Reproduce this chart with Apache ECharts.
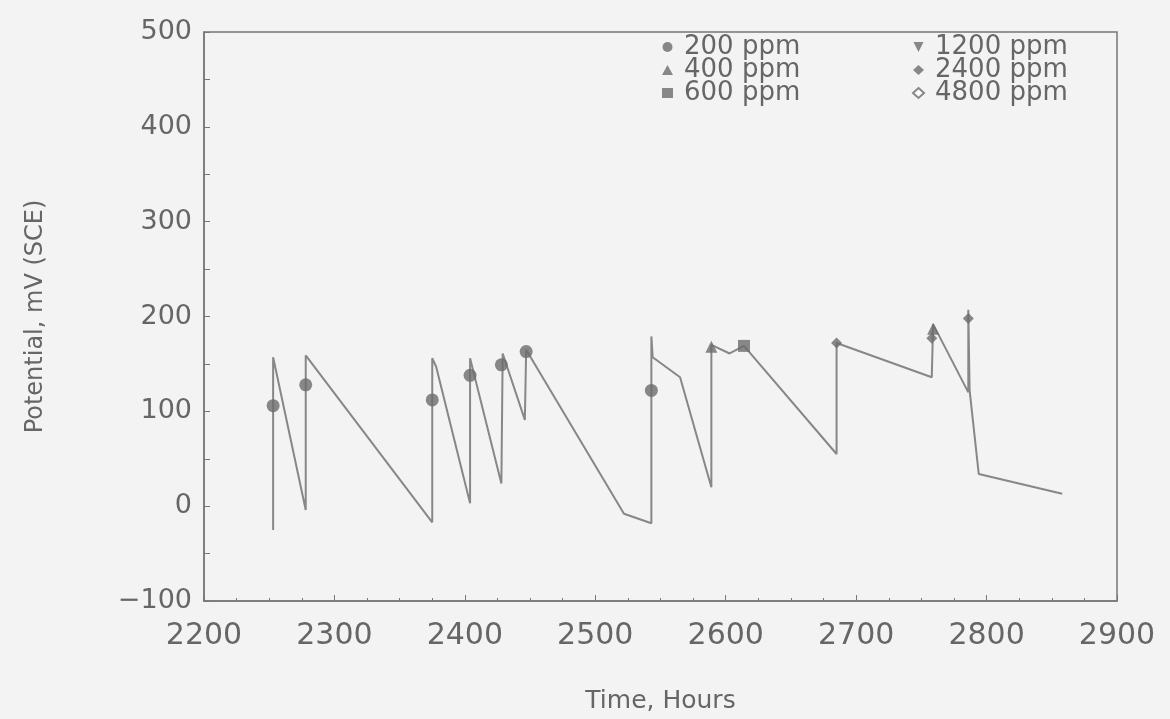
<!DOCTYPE html>
<html>
<head>
<meta charset="utf-8">
<script src="https://cdn.jsdelivr.net/npm/echarts@6/dist/echarts.min.js"></script>
<style>
html,body{margin:0;padding:0;background:#f3f3f3;}
#chart{width:1170px;height:719px;}
</style>
</head>
<body>
<div id="chart"></div>
<script>
// Trace of the potential curve
const lineHours  = [2253,2253,2278,2278,2375,2375,2378,2404,2404,2428,2429,2446,2447,2522,2543,2543,2544,2565,2589,2589,2603,2614,2685,2685,2758,2759,2786,2786,2787,2794,2858];
const lineValues = [-25,157,-4,159,-17,156,147,3,156,24,161,91,165,-8,-18,179,157,136,20,170,161,169,55,172,136,192,120,207,122,34,13];

// Markers by concentration
const ppm200Hours  = [2253,2278,2375,2404,2428,2447,2543];
const ppm200Values = [106,128,112,138,149,163,122];
const ppm400Hours  = [2589,2759];
const ppm400Values = [168,187];
const ppm600Hours  = [2614];
const ppm600Values = [169];
const ppm1200Hours  = [];
const ppm1200Values = [];
const ppm2400Hours  = [2685,2758,2786];
const ppm2400Values = [172,177,198];
const ppm4800Hours  = [];
const ppm4800Values = [];

const xTicks = [2200,2300,2400,2500,2600,2700,2800,2900];
const yTicks = [-100,0,100,200,300,400,500];

const zip = (a,b) => a.map((v,i)=>[v,b[i]]);
const ink = '#6b6b6b';
const lineInk = '#878787';
const font = 'DejaVu Sans';

const chart = echarts.init(document.getElementById('chart'));
const markerSeries = (name, hours, vals, symbol, size) => ({
  name, type:'scatter', data: zip(hours, vals), symbol, symbolSize: size,
  itemStyle:{color: ink}, z: 5
});
chart.setOption({
  backgroundColor:'#f3f3f3',
  animation:false,
  grid:{left:204, right:53, top:32, bottom:115, show:true, borderColor:'#777', borderWidth:1.5, backgroundColor:'transparent'},
  xAxis:{
    type:'value', min:xTicks[0], max:xTicks[xTicks.length-1], interval:100,
    name:'Time, Hours', nameLocation:'middle', nameGap:88,
    nameTextStyle:{fontFamily:font, fontSize:25, color:'#666'},
    axisLine:{show:true, onZero:false, lineStyle:{color:'#777', width:1.5}},
    axisTick:{show:true, inside:true, length:6, lineStyle:{color:'#777'}},
    minorTick:{show:true, splitNumber:4, length:3, lineStyle:{color:'#777'}},
    splitLine:{show:false},
    axisLabel:{fontFamily:font, fontSize:30, color:'#666', margin:20, formatter: v => String(v)}
  },
  yAxis:{
    type:'value', min:yTicks[0], max:yTicks[yTicks.length-1], interval:100,
    name:'Potential, mV (SCE)', nameLocation:'middle', nameGap:156, nameRotate:90,
    nameTextStyle:{fontFamily:font, fontSize:24, color:'#666'},
    axisLine:{show:true, onZero:false, lineStyle:{color:'#777', width:1.5}},
    axisTick:{show:true, inside:true, length:6, lineStyle:{color:'#777'}},
    minorTick:{show:true, splitNumber:2, length:6, lineStyle:{color:'#777'}},
    splitLine:{show:false},
    axisLabel:{fontFamily:font, fontSize:27, color:'#666', margin:12,
      formatter: v => v < 0 ? '\u2212' + Math.abs(v) : String(v)}
  },
  legend:[
    {data:['200 ppm','400 ppm','600 ppm'], orient:'vertical', left:657, top:29,
     itemWidth:11, itemHeight:10, itemGap:-3,
     textStyle:{fontFamily:font, fontSize:26, color:'#666', lineHeight:22.5, padding:[0,0,0,6]}},
    {data:['1200 ppm','2400 ppm','4800 ppm'], orient:'vertical', left:907, top:29,
     itemWidth:11, itemHeight:10, itemGap:-3,
     textStyle:{fontFamily:font, fontSize:26, color:'#666', lineHeight:22.5, padding:[0,0,0,6]}}
  ],
  series:[
    {name:'trace', type:'line', data: zip(lineHours, lineValues), showSymbol:false,
     lineStyle:{color:lineInk, width:2}, z:3},
    markerSeries('200 ppm', ppm200Hours, ppm200Values, 'circle', 13),
    markerSeries('400 ppm', ppm400Hours, ppm400Values, 'triangle', 12),
    markerSeries('600 ppm', ppm600Hours, ppm600Values, 'rect', 12),
    markerSeries('1200 ppm', ppm1200Hours, ppm1200Values, 'path://M0,0L10,0L5,10Z', 10),
    markerSeries('2400 ppm', ppm2400Hours, ppm2400Values, 'diamond', 11),
    markerSeries('4800 ppm', ppm4800Hours, ppm4800Values, 'emptyDiamond', 9)
  ]
});
</script>
</body>
</html>
